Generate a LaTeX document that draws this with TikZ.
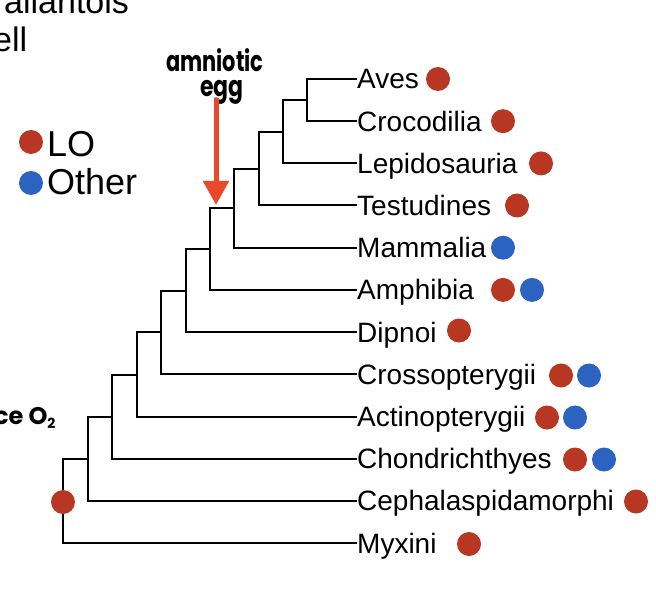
\documentclass[tikz,border=0pt]{standalone}
\usepackage{fontspec}
\setmainfont{Liberation Sans}
\newfontfamily\handfont{Poppins}
\usetikzlibrary{arrows.meta}
\definecolor{lored}{RGB}{184,55,34}
\definecolor{otherblue}{RGB}{44,99,192}
\definecolor{arrowred}{RGB}{234,72,43}
\begin{document}
\begin{tikzpicture}[x=1pt,y=-1pt,
  branch/.style={line width=2pt, line join=miter},
  leaf/.style={anchor=west, inner sep=0pt, text height=20pt, text depth=0pt, font=\fontsize{28}{28}\selectfont},
  rdot/.style={circle, fill=lored, minimum size=24pt, inner sep=0pt},
  bdot/.style={circle, fill=otherblue, minimum size=24pt, inner sep=0pt},
  legend/.style={anchor=base west, inner sep=0pt, font=\fontsize{36}{36}\selectfont},
  hand/.style={inner sep=0pt, font=\handfont\bfseries\fontsize{22}{22}\selectfont},
  note/.style={anchor=base west, inner sep=0pt, font=\fontsize{34}{34}\selectfont},
  marker/.style={line width=5pt, arrowred, -{Triangle[width=25pt,length=24pt]}}
]
\useasboundingbox (0,0) rectangle (656,596);
\fill[white] (0,0) rectangle (656,596);

% cut-off notes at top left
\node[note] (allan) at (4,14) {allantois};
\node[note] (shell) at (-7,52) {ell};

% legend
\node[rdot] (lodot) at (31,142) {};
\node[legend] (lo) at (47,157) {LO};
\node[bdot] (otherdot) at (31,183) {};
\node[legend] (other) at (47,195) {Other};

% leaves
\node[leaf] (aves)  at (357,79.0)  {Aves};
\node[leaf] (croc)  at (357,121.2) {Crocodilia};
\node[leaf] (lepi)  at (357,163.4) {Lepidosauria};
\node[leaf] (testu) at (357,205.5) {Testudines};
\node[leaf] (mamm)  at (357,247.7) {Mammalia};
\node[leaf] (amph)  at (357,289.9) {Amphibia};
\node[leaf] (dipn)  at (357,332.1) {Dipnoi};
\node[leaf] (cross) at (357,374.3) {Crossopterygii};
\node[leaf] (actin) at (357,416.5) {Actinopterygii};
\node[leaf] (chond) at (357,458.6) {Chondrichthyes};
\node[leaf] (cepha) at (357,500.8) {Cephalaspidamorphi};
\node[leaf] (myxin) at (357,543.0) {Myxini};

% internal nodes
\coordinate (n1)  at (307,100.1);
\coordinate (n2)  at (283,131.8);
\coordinate (n3)  at (259,168.6);
\coordinate (n4)  at (234,208.2);
\coordinate (n5)  at (210,249.0);
\coordinate (n6)  at (186,290.6);
\coordinate (n7)  at (161,332.4);
\coordinate (n8)  at (137,374.5);
\coordinate (n9)  at (112,416.5);
\coordinate (n10) at (88,458.7);
\coordinate (n11) at (63,500.8);

% branches
\draw[branch] (aves.west) -| (n1) |- (croc.west);
\draw[branch] (n1) -| (n2) |- (lepi.west);
\draw[branch] (n2) -| (n3) |- (testu.west);
\draw[branch] (n3) -| (n4) |- (mamm.west);
\draw[branch] (n4) -| (n5) |- (amph.west);
\draw[branch] (n5) -| (n6) |- (dipn.west);
\draw[branch] (n6) -| (n7) |- (cross.west);
\draw[branch] (n7) -| (n8) |- (actin.west);
\draw[branch] (n8) -| (n9) |- (chond.west);
\draw[branch] (n9) -| (n10) |- (cepha.west);
\draw[branch] (n10) -| (n11) |- (myxin.west);

% root dot
\node[rdot] (rootdot) at (63,502) {};

% trait dots
\node[rdot] (d-aves)   at (438,79.0) {};
\node[rdot] (d-croc)   at (503,121.2) {};
\node[rdot] (d-lepi)   at (541,163.4) {};
\node[rdot] (d-testu)  at (517,205.5) {};
\node[bdot] (d-mamm)   at (503,247.7) {};
\node[rdot] (d-amph-r) at (503,289.9) {};
\node[bdot] (d-amph-b) at (532,289.9) {};
\node[rdot] (d-dipn)   at (459,330.5) {};
\node[rdot] (d-cross-r) at (561,375.5) {};
\node[bdot] (d-cross-b) at (589,375.5) {};
\node[rdot] (d-actin-r) at (547,417.5) {};
\node[bdot] (d-actin-b) at (575,417.5) {};
\node[rdot] (d-chond-r) at (575,459.5) {};
\node[bdot] (d-chond-b) at (604,459.5) {};
\node[rdot] (d-cepha)  at (636,501.5) {};
\node[rdot] (d-myxin)  at (469,544) {};

% amniotic egg annotation
\node[hand, align=center, anchor=north] (amn) at (215,48)
  {\scalebox{0.95}[1.3]{amniotic}\\[3pt]\hspace*{14pt}\scalebox{1}[1.3]{egg}};
\coordinate (atail) at (216,98);
\coordinate (ahead) at (216,205);
\draw[marker] (atail) -- (ahead);

% left handwritten note
\node[anchor=base west, inner sep=0pt, font=\handfont\bfseries\fontsize{24}{24}\selectfont] (o2) at (-6,424) {ce O\raisebox{-4pt}{\fontsize{14}{14}\selectfont 2}};
\end{tikzpicture}
\end{document}
